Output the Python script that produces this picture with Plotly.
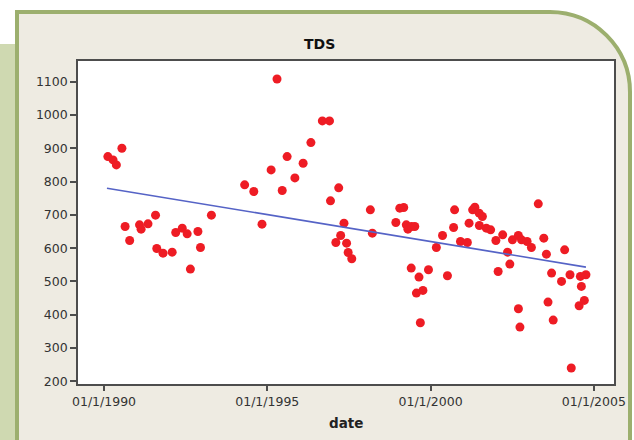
import plotly.graph_objects as go

# ---- data ----
dates = [
    "1990-02-13", "1990-04-12", "1990-05-19", "1990-07-20", "1990-08-25", "1990-10-15",
    "1991-02-02", "1991-02-20", "1991-05-08", "1991-07-31", "1991-08-14", "1991-10-23",
    "1992-02-02", "1992-03-13", "1992-05-25", "1992-07-19", "1992-08-24", "1992-11-16",
    "1992-12-15", "1993-04-16", "1994-04-23", "1994-08-03", "1994-11-03", "1995-02-13",
    "1995-04-20", "1995-06-17", "1995-08-11", "1995-11-06", "1996-02-06", "1996-05-03",
    "1996-09-08", "1996-11-27", "1996-12-08", "1997-03-10", "1997-05-08", "1997-04-01",
    "1997-02-06", "1997-06-06", "1997-06-24", "1997-08-03", "1998-02-27", "1998-03-21",
    "1998-12-09", "1999-01-22", "1999-03-07", "1999-04-05", "1999-04-23", "1999-06-02",
    "1999-07-09", "1999-05-30", "1999-08-25", "1999-12-09", "1999-07-27", "1999-10-08",
    "1999-09-09", "2000-03-06", "2000-05-14", "2000-07-08", "2000-09-15", "2000-09-26",
    "2000-12-01", "2001-02-16", "2001-03-07", "2001-04-16", "2001-05-11", "2001-06-28",
    "2001-08-03", "2001-06-30", "2001-09-16", "2001-11-03", "2002-01-01", "2002-03-18",
    "2002-05-11", "2002-06-06", "2002-01-26", "2002-07-05", "2002-09-09", "2002-10-15",
    "2002-12-16", "2003-02-02", "2002-09-10", "2002-09-27", "2003-04-20", "2003-06-21",
    "2003-07-20", "2003-09-16", "2003-08-07", "2003-10-04", "2004-01-05", "2004-02-09",
    "2004-04-09", "2004-04-23", "2004-08-03", "2004-10-04", "2004-08-14", "2004-07-20",
    "2004-09-16",
]
tds = [
    875, 865, 850, 900, 665, 623,
    670, 657, 673, 699, 599, 585,
    588, 647, 660, 643, 537, 650,
    602, 699, 790, 770, 672, 835,
    1108, 773, 875, 811, 855, 917,
    982, 982, 742, 781, 675, 638,
    617, 615, 587, 568, 715, 645,
    677, 720, 722, 670, 657, 665,
    665, 540, 513, 535, 465, 473,
    376, 602, 638, 517, 662, 715,
    620, 617, 675, 715, 723, 705,
    695, 668, 660, 655, 623, 640,
    588, 552, 530, 625, 638, 625,
    620, 602, 418, 363, 733, 630,
    582, 525, 438, 384, 500, 595,
    520, 240, 515, 520, 485, 427,
    443,
]
trend_dates = ["1990-02-03", "2004-10-04"]
trend_values = [780, 543]

tick_dates = ["1990-01-01", "1995-01-01", "2000-01-01", "2005-01-01"]
tick_text = ["01/1/1990", "01/1/1995", "01/1/2000", "01/1/2005"]
y_ticks = [200, 300, 400, 500, 600, 700, 800, 900, 1000, 1100]

# ---- layout geometry (pixels) ----
W, H = 634, 440
ML, MR, MT, MB = 78, 20, 61, 56
PW, PH = W - ML - MR, H - MT - MB


def px(p):
    return (p - ML) / PW


def py(p):
    return (H - MB - p) / PH


BEIGE = "#EEEBE2"
FRAME = "#9CAF6E"
LEFTGREEN = "#CFD9B1"
AXC = "#4d4d4d"
FONT = "DejaVu Sans"

fig = go.Figure()
fig.add_trace(go.Scatter(
    x=dates, y=tds, mode="markers",
    marker=dict(color="#EE1C24", size=9, line=dict(width=0)),
    showlegend=False,
))
fig.add_trace(go.Scatter(
    x=trend_dates, y=trend_values, mode="lines",
    line=dict(color="#5563C6", width=1.6),
    showlegend=False,
))

k = 0.5523
r = 80
frame_path = (
    f"M {px(17)},{py(12)} L {px(630 - r)},{py(12)} "
    f"C {px(630 - r + r * k)},{py(12)} {px(630)},{py(12 + r - r * k)} {px(630)},{py(12 + r)} "
    f"L {px(630)},{py(450)} L {px(17)},{py(450)} Z"
)

shapes = [
    dict(type="rect", xref="paper", yref="paper", layer="below",
         x0=px(-5), x1=px(17), y0=py(44), y1=py(450),
         fillcolor=LEFTGREEN, line=dict(width=0)),
    dict(type="path", xref="paper", yref="paper", layer="below",
         path=frame_path, fillcolor=BEIGE, line=dict(color=FRAME, width=4)),
    dict(type="rect", xref="paper", yref="paper", layer="below",
         x0=0, x1=1, y0=0, y1=1, fillcolor="white", line=dict(width=0)),
]

annotations = [
    dict(text="<b>TDS</b>", xref="paper", yref="paper", x=px(319), y=py(44),
         xanchor="center", yanchor="middle", showarrow=False,
         font=dict(family=FONT, size=14, color="#111")),
    dict(text="<b>date</b>", xref="paper", yref="paper", x=px(346), y=py(423),
         xanchor="center", yanchor="middle", showarrow=False,
         font=dict(family=FONT, size=13.5, color="#222")),
]

fig.update_layout(
    width=W, height=H,
    margin=dict(l=ML, r=MR, t=MT, b=MB, pad=0, autoexpand=False),
    paper_bgcolor="white",
    plot_bgcolor="white",
    shapes=shapes,
    annotations=annotations,
    showlegend=False,
)
fig.update_xaxes(
    type="date",
    range=["1989-03-16", "2005-08-14"],
    tickvals=tick_dates, ticktext=tick_text,
    showgrid=False, zeroline=False,
    showline=True, mirror=True, linecolor=AXC, linewidth=1.6,
    ticks="outside", ticklen=5, tickwidth=1.5, tickcolor=AXC,
    tickfont=dict(family=FONT, size=12.5, color="#333"),
)
fig.update_yaxes(
    range=[192, 1162],
    tickvals=y_ticks,
    showgrid=False, zeroline=False,
    showline=True, mirror=True, linecolor=AXC, linewidth=1.6,
    ticks="outside", ticklen=6, tickwidth=1.5, tickcolor=AXC,
    tickfont=dict(family=FONT, size=12.5, color="#333"),
)

fig.write_html("out.html")
